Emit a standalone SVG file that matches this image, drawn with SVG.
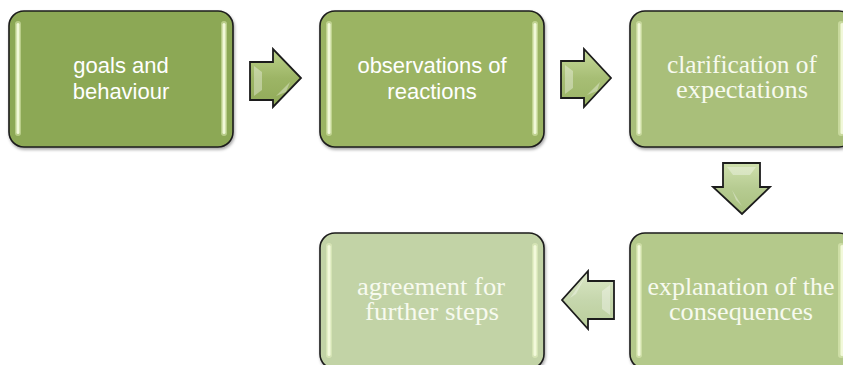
<svg xmlns="http://www.w3.org/2000/svg" width="843" height="365" viewBox="0 0 843 365">
<defs>
<style>
.box{stroke:#1c1c1c;stroke-width:1.6;filter:url(#sh)}
.hl{fill:#f3fadc;opacity:0.95}
.hlg{fill:#eef8c8;opacity:0.45}
.sans{font-family:"Liberation Sans",Arial,sans-serif;font-size:22px;fill:#ffffff;text-anchor:middle}
.serif{font-family:"Liberation Serif","Times New Roman",serif;font-size:25px;fill:#f7faef;text-anchor:middle}
.arr{stroke:#1c1c1c;stroke-width:1.8;stroke-linejoin:miter}
.bev{fill:#ffffff;opacity:0.35}
</style>
<filter id="sh" x="-10%" y="-10%" width="120%" height="125%">
<feDropShadow dx="1" dy="2" stdDeviation="1.5" flood-color="#000" flood-opacity="0.35"/>
</filter>
<linearGradient id="ga1" x1="0" y1="0" x2="0" y2="1">
<stop offset="0" stop-color="#bcd28a"/><stop offset="0.5" stop-color="#9db566"/><stop offset="1" stop-color="#90aa58"/>
</linearGradient>
<linearGradient id="ga2" x1="0" y1="0" x2="0" y2="1">
<stop offset="0" stop-color="#c6d99a"/><stop offset="0.5" stop-color="#a7be75"/><stop offset="1" stop-color="#9bb466"/>
</linearGradient>
<linearGradient id="ga3" x1="0" y1="0" x2="0" y2="1">
<stop offset="0" stop-color="#cfe0ad"/><stop offset="0.5" stop-color="#b6cb91"/><stop offset="1" stop-color="#a9c07f"/>
</linearGradient>
<linearGradient id="ga4" x1="0" y1="0" x2="0" y2="1">
<stop offset="0" stop-color="#dbe7c6"/><stop offset="0.5" stop-color="#c6d7ad"/><stop offset="1" stop-color="#b9cd9a"/>
</linearGradient>
</defs>

<g id="connectors">
<g id="arrow1">
<polygon class="arr" fill="url(#ga1)" points="250,62 273,62 273,49 301,78 273,107 273,100 250,100"/>
<polygon class="bev" points="254,66 262,72 262,90 254,96"/>
<polygon class="bev" points="276,96 290,82 286,92"/>
</g>
<g id="arrow2">
<polygon class="arr" fill="url(#ga2)" points="561,61 584,61 584,49 611,78 584,107 584,98 561,98"/>
<polygon class="bev" points="565,65 573,71 573,88 565,94"/>
<polygon class="bev" points="587,95 600,82 597,91"/>
</g>
<g id="arrow3">
<polygon class="arr" fill="url(#ga3)" points="723,163 760,163 760,187 770,187 742,214 713,187 723,187"/>
<polygon class="bev" points="727,167 756,167 750,175 733,175"/>
<polygon class="bev" points="732,190 742,206 736,200"/>
</g>
<g id="arrow4">
<polygon class="arr" fill="url(#ga4)" points="614,281 588,281 588,271 562,300 588,329 588,319 614,319"/>
<polygon class="bev" points="610,285 602,291 602,309 610,315"/>
<polygon class="bev" points="585,277 570,298 576,294"/>
</g>
</g>

<g id="node1">
<rect class="box" x="9" y="11" width="224" height="136" rx="15" fill="#8ca854"/>
<rect class="hlg" x="15" y="21" width="6" height="115" rx="3"/>
<rect class="hl" x="16.5" y="23" width="3" height="111" rx="1.5"/>
<rect class="hlg" x="221" y="21" width="6" height="115" rx="3"/>
<rect class="hl" x="222.5" y="23" width="3" height="111" rx="1.5"/>
<text class="sans" x="121" y="73">goals and</text>
<text class="sans" x="121" y="99">behaviour</text>
</g>

<g id="node2">
<rect class="box" x="320" y="11" width="224" height="136" rx="15" fill="#9bb463"/>
<rect class="hlg" x="326" y="21" width="6" height="115" rx="3"/>
<rect class="hl" x="327.5" y="23" width="3" height="111" rx="1.5"/>
<rect class="hlg" x="532" y="21" width="6" height="115" rx="3"/>
<rect class="hl" x="533.5" y="23" width="3" height="111" rx="1.5"/>
<text class="sans" x="432" y="73">observations of</text>
<text class="sans" x="432" y="99">reactions</text>
</g>

<g id="node3">
<rect class="box" x="630" y="11" width="224" height="136" rx="15" fill="#a9bf7a"/>
<rect class="hlg" x="636" y="21" width="6" height="115" rx="3"/>
<rect class="hl" x="637.5" y="23" width="3" height="111" rx="1.5"/>
<rect class="hlg" x="838" y="21" width="6" height="115" rx="3"/>
<rect class="hl" x="840.5" y="23" width="3" height="111" rx="1.5"/>
<text class="serif" x="742" y="73" textLength="150" lengthAdjust="spacingAndGlyphs">clarification of</text>
<text class="serif" x="742" y="98" textLength="132" lengthAdjust="spacingAndGlyphs">expectations</text>
</g>

<g id="node4">
<rect class="box" x="630" y="233" width="224" height="136" rx="15" fill="#b4c98b"/>
<rect class="hlg" x="636" y="243" width="6" height="115" rx="3"/>
<rect class="hl" x="637.5" y="245" width="3" height="111" rx="1.5"/>
<rect class="hlg" x="838" y="243" width="6" height="115" rx="3"/>
<rect class="hl" x="840.5" y="245" width="3" height="111" rx="1.5"/>
<text class="serif" x="741" y="295" textLength="187" lengthAdjust="spacingAndGlyphs">explanation of the</text>
<text class="serif" x="741" y="320" textLength="144" lengthAdjust="spacingAndGlyphs">consequences</text>
</g>

<g id="node5">
<rect class="box" x="320" y="233" width="224" height="136" rx="15" fill="#c2d3a6"/>
<rect class="hlg" x="326" y="243" width="6" height="115" rx="3"/>
<rect class="hl" x="327.5" y="245" width="3" height="111" rx="1.5"/>
<rect class="hlg" x="532" y="243" width="6" height="115" rx="3"/>
<rect class="hl" x="533.5" y="245" width="3" height="111" rx="1.5"/>
<text class="serif" x="431" y="295" textLength="148" lengthAdjust="spacingAndGlyphs">agreement for</text>
<text class="serif" x="432" y="320" textLength="134" lengthAdjust="spacingAndGlyphs">further steps</text>
</g>
</svg>
